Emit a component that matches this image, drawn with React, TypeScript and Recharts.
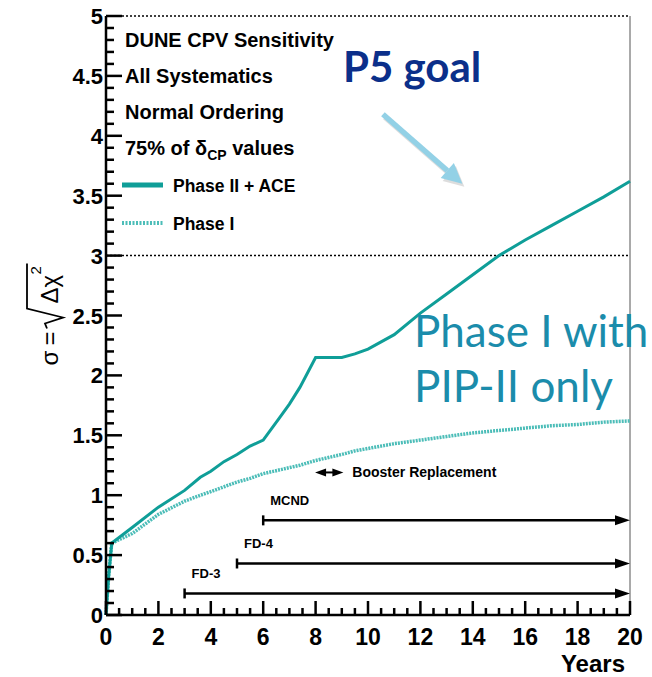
import React from 'react';
import { LineChart, Line, XAxis, YAxis, ReferenceLine, Legend, Label } from 'recharts';

// sensitivity curves
const years = [0, 0.1, 0.22, 1, 2, 3, 3.6, 4, 4.5, 5, 5.5, 6, 6.6, 7, 7.4, 8, 9, 9.5, 10, 11, 12, 13, 14, 15, 16, 17, 18, 19, 20];
const phase2Ace = [0, 0.32, 0.6, 0.73, 0.9, 1.04, 1.15, 1.2, 1.28, 1.34, 1.41, 1.46, 1.64, 1.76, 1.9, 2.15, 2.15, 2.18, 2.22, 2.34, 2.52, 2.68, 2.84, 3.0, 3.13, 3.25, 3.37, 3.49, 3.62];
const phase1 = [0, 0.32, 0.6, 0.68, 0.84, 0.95, 1.0, 1.03, 1.07, 1.11, 1.14, 1.18, 1.21, 1.23, 1.25, 1.29, 1.34, 1.37, 1.39, 1.43, 1.46, 1.49, 1.52, 1.54, 1.56, 1.58, 1.59, 1.61, 1.62];

const majorXTicks = [0, 2, 4, 6, 8, 10, 12, 14, 16, 18, 20];
const majorYTicks = [0, 0.5, 1, 1.5, 2, 2.5, 3, 3.5, 4, 4.5, 5];

const titleLines = ['DUNE CPV Sensitivity', 'All Systematics', 'Normal Ordering'];

// staging timeline (start year, level on the sigma axis)
const stages = [
  { label: 'MCND', start: 6, level: 0.79 },
  { label: 'FD-4', start: 5, level: 0.43 },
  { label: 'FD-3', start: 3, level: 0.18 },
];
const booster = { label: 'Booster Replacement', start: 7.98, end: 9.06, level: 1.19 };
const p5Arrow = [{ x: 10.57, y: 4.18 }, { x: 13.6, y: 3.6 }];

const data = years.map((year, i) => ({ year, phase2: phase2Ace[i], phase1: phase1[i] }));

// minor ticks every 0.5 yr and 0.1 sigma
const xTicks: number[] = [];
for (let i = 0; i <= 40; i++) xTicks.push(i / 2);
const yTicks: number[] = [];
for (let i = 0; i <= 50; i++) yTicks.push(i / 10);

const rootFont = "'Liberation Sans', Arial, Helvetica, sans-serif";
const solidColor = '#0f9e98';
const dottedColor = '#4cbdb8';

const isMajor = (v: number, list: number[]) => list.some((m) => Math.abs(m - v) < 1e-6);

const XTick = (props: any) => {
  const { x, y, payload } = props;
  const major = isMajor(payload.value, majorXTicks);
  return (
    <g>
      <line x1={x} y1={y} x2={x} y2={y - (major ? 14 : 7)} stroke="#000" strokeWidth={2.5} />
      {major && (
        <text x={x} y={y + 30} textAnchor="middle" fontSize={23} fontWeight="bold" fontFamily={rootFont} fill="#000">
          {payload.value}
        </text>
      )}
    </g>
  );
};

const YTick = (props: any) => {
  const { x, y, payload } = props;
  const major = isMajor(payload.value, majorYTicks);
  return (
    <g>
      <line x1={x} y1={y} x2={x + (major ? 16 : 8)} y2={y} stroke="#000" strokeWidth={2.5} />
      {major && (
        <text x={x - 3} y={y + 8} textAnchor="end" fontSize={22} fontWeight="bold" fontFamily={rootFont} fill="#000">
          {payload.value}
        </text>
      )}
    </g>
  );
};

const YLabel = (props: any) => {
  const vb = props.viewBox || { x: 0, y: 16, width: 106, height: 599 };
  const cx = vb.x + 58;
  const cy = vb.y + vb.height / 2;
  return (
    <g transform={`translate(${cx},${cy}) rotate(-90)`} fontFamily={rootFont} fill="#000">
      <text x={-50} y={0} fontSize={24}>σ</text>
      <text x={-30} y={0} fontSize={24}>=</text>
      <path d="M -13 -11 L -8 -13 L -2 5 L 7 -31 L 52 -31" fill="none" stroke="#000" strokeWidth={1.8} />
      <text x={12} y={0} fontSize={24}>Δχ</text>
      <text x={41} y={-17} fontSize={15}>2</text>
    </g>
  );
};

const stageShape = (label: string) => (props: any) => {
  const { x1, y1, x2 } = props;
  return (
    <g>
      <line x1={x1} y1={y1} x2={x2 - 12} y2={y1} stroke="#000" strokeWidth={2.5} />
      <line x1={x1} y1={y1 - 5} x2={x1} y2={y1 + 5} stroke="#000" strokeWidth={2.5} />
      <polygon points={`${x2},${y1} ${x2 - 15},${y1 - 5} ${x2 - 15},${y1 + 5}`} fill="#000" />
      <text x={x1 + 7} y={y1 - 15} fontSize={13} fontWeight="bold" fontFamily={rootFont} fill="#000">
        {label}
      </text>
    </g>
  );
};

const boosterShape = (props: any) => {
  const { x1, y1, x2 } = props;
  return (
    <g>
      <line x1={x1 + 8} y1={y1} x2={x2 - 8} y2={y1} stroke="#000" strokeWidth={2} />
      <polygon points={`${x1},${y1} ${x1 + 11},${y1 - 4} ${x1 + 11},${y1 + 4}`} fill="#000" />
      <polygon points={`${x2},${y1} ${x2 - 11},${y1 - 4} ${x2 - 11},${y1 + 4}`} fill="#000" />
      <text x={x2 + 9} y={y1 + 5} fontSize={14} fontWeight="bold" fontFamily={rootFont} fill="#000">
        {booster.label}
      </text>
    </g>
  );
};

const p5Shape = (props: any) => {
  const { x1, y1, x2, y2 } = props;
  const ang = Math.atan2(y2 - y1, x2 - x1);
  const head = 20;
  const bx = x2 - head * Math.cos(ang);
  const by = y2 - head * Math.sin(ang);
  const nx = -Math.sin(ang) * 10;
  const ny = Math.cos(ang) * 10;
  const arrow = (dx: number, dy: number, color: string) => (
    <g transform={`translate(${dx},${dy})`}>
      <line x1={x1} y1={y1} x2={bx} y2={by} stroke={color} strokeWidth={5.5} />
      <polygon points={`${x2},${y2} ${bx + nx},${by + ny} ${bx - nx},${by - ny}`} fill={color} />
    </g>
  );
  return (
    <g>
      {arrow(2, 3, 'rgba(120,120,120,0.25)')}
      {arrow(0, 0, '#93d1e6')}
    </g>
  );
};

const renderLegend = (props: any) => {
  // solid curve listed first, as in the original
  const payload = [...(props.payload || [])].reverse();
  return (
    <svg width={360} height={240} style={{ display: 'block' }}>
      <g fontFamily={rootFont} fontWeight="bold" fill="#000">
        {titleLines.map((t, i) => (
          <text key={t} x={125} y={47 + i * 36} fontSize={20}>
            {t}
          </text>
        ))}
        <text x={125} y={155} fontSize={20}>
          75% of δ<tspan fontSize={14} dy={5}>CP</tspan>
          <tspan dy={-5}> values</tspan>
        </text>
        {payload.map((entry: any, i: number) => {
          const y = 185 + i * 38;
          const dotted = entry.payload && entry.payload.strokeDasharray;
          return (
            <g key={entry.value}>
              <line
                x1={122}
                y1={y}
                x2={163}
                y2={y}
                stroke={entry.color}
                strokeWidth={dotted ? 4 : 5}
                strokeDasharray={dotted ? '2 1.5' : undefined}
              />
              <text x={173} y={y + 7} fontSize={17.5}>
                {entry.value}
              </text>
            </g>
          );
        })}
      </g>
    </svg>
  );
};

export default function App() {
  return (
    <div style={{ position: 'absolute', left: 0, top: 0, width: 652, height: 677, background: '#fff' }}>
      <LineChart width={652} height={677} data={data} margin={{ top: 16, right: 22, bottom: 0, left: 0 }}>
        <XAxis
          dataKey="year"
          type="number"
          domain={[0, 20]}
          ticks={xTicks}
          interval={0}
          height={62}
          tickSize={0}
          tickMargin={0}
          tickLine={false}
          tick={XTick}
          axisLine={{ stroke: '#000', strokeWidth: 2.5 }}
        >
          <Label value="Years" position="insideBottomRight" offset={5} fontSize={24} fontWeight="bold" fontFamily={rootFont} fill="#000" />
        </XAxis>
        <YAxis
          type="number"
          domain={[0, 5]}
          ticks={yTicks}
          interval={0}
          width={106}
          tickSize={0}
          tickMargin={0}
          tickLine={false}
          tick={YTick}
          axisLine={{ stroke: '#000', strokeWidth: 2.5 }}
        >
          <Label content={YLabel} />
        </YAxis>
        <ReferenceLine y={5} stroke="#000" strokeWidth={1.5} strokeDasharray="2 2" />
        <ReferenceLine y={3} stroke="#000" strokeWidth={1.5} strokeDasharray="2 2" />
        <ReferenceLine x={20} stroke="#555" strokeWidth={1} />
        {stages.map((s) => (
          <ReferenceLine
            key={s.label}
            segment={[{ x: s.start, y: s.level }, { x: 20, y: s.level }]}
            shape={stageShape(s.label)}
          />
        ))}
        <ReferenceLine
          segment={[{ x: booster.start, y: booster.level }, { x: booster.end, y: booster.level }]}
          shape={boosterShape}
        />
        <ReferenceLine segment={p5Arrow} shape={p5Shape} ifOverflow="visible" />
        <Line
          type="linear"
          dataKey="phase1"
          name="Phase I"
          stroke={dottedColor}
          strokeWidth={3.5}
          strokeDasharray="2 1"
          dot={false}
          isAnimationActive={false}
        />
        <Line
          type="linear"
          dataKey="phase2"
          name="Phase II + ACE"
          stroke={solidColor}
          strokeWidth={3}
          dot={false}
          isAnimationActive={false}
        />
        <Legend
          layout="vertical"
          align="center"
          verticalAlign="middle"
          content={renderLegend}
          wrapperStyle={{ left: 0, top: 0, width: 360, height: 240 }}
        />
      </LineChart>
      <svg width={652} height={677} style={{ position: 'absolute', left: 0, top: 0, pointerEvents: 'none' }}>
        <text x={343} y={82} fontFamily="Lato, 'Open Sans', sans-serif" fontWeight="bold" fontSize={42} fill="#0b2f8a">
          P5 goal
        </text>
        <text fontFamily="Lato, 'Open Sans', sans-serif" fontSize={44} fill="#1b8cab">
          <tspan x={414} y={347}>Phase I with</tspan>
          <tspan x={414} y={402}>PIP-II only</tspan>
        </text>
      </svg>
    </div>
  );
}
